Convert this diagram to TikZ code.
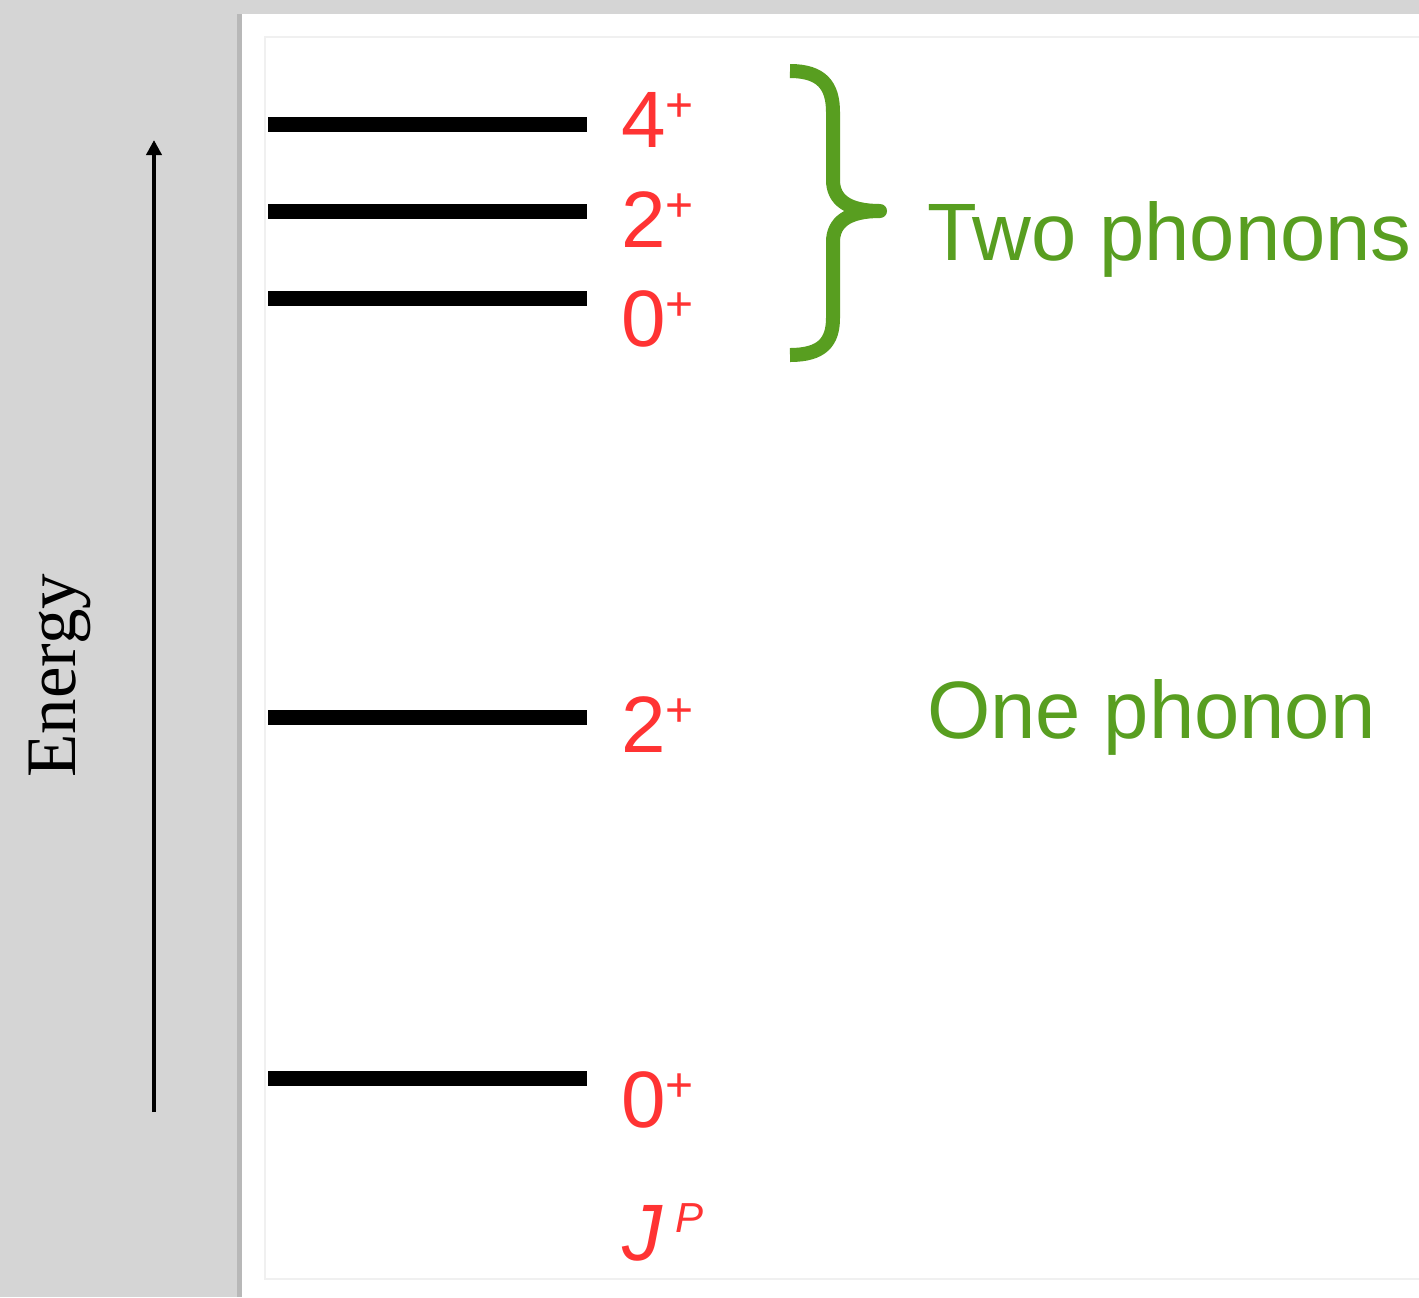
\documentclass[tikz,border=0pt]{standalone}
\usepackage{fontspec}
\setmainfont{Liberation Sans}
\newfontfamily\timesface{Liberation Serif}
\usetikzlibrary{arrows.meta}

\definecolor{panelgray}{RGB}{213,213,213}
\definecolor{edgegray}{RGB}{240,240,240}
\definecolor{spinred}{RGB}{255,51,51}
\definecolor{phongreen}{RGB}{88,158,32}

\newcommand{\plusup}{{\fontsize{24}{24}\selectfont\raisebox{13pt}{+}}}

\tikzset{
  level/.style={line width=7.5pt},
  spin/.style={anchor=base west, inner sep=0pt, text=spinred, font=\fontsize{40}{48}\selectfont},
  phon/.style={anchor=base west, inner sep=0pt, text=phongreen, font=\fontsize{40.7}{48}\selectfont},
  brace/.style={draw=phongreen, line width=7pt, line join=round}
}

\begin{document}
\begin{tikzpicture}[x=0.5pt,y=-0.5pt]

\useasboundingbox (0,0) rectangle (1419,1297);

% background and panel
\fill[panelgray] (0,0) rectangle (1419,1297);
\fill[black!28] (237,14) rectangle (243,1297);
\fill[white] (242,14) rectangle (1419,1297);
\draw[edgegray, line width=1pt] (1419,37) -- (265,37) -- (265,1279) -- (1419,1279);

% energy axis
\coordinate (e0) at (154,1112);
\coordinate (e1) at (154,140);
\draw[line width=2pt, -{Triangle[width=7.5pt,length=7.5pt]}] (e0) -- (e1);
\node[anchor=base west, rotate=90, inner sep=0pt, font=\timesface\fontsize{35.5}{40}\selectfont] (energy) at (75,778) {Energy};

% levels
\foreach \y in {124,211,298,717,1078}
    \draw[level] (268,\y) -- (587,\y);

\foreach \b/\j/\n in {147/4/a,247/2/b,346/0/c,752/2/d,1127/0/e}
    \node[spin] (spin-\n) at (621,\b) {\j\plusup};

\node[spin] (jp) at (622,1260) {\textit{J}\kern6pt\raisebox{14pt}{\fontsize{21}{21}\selectfont\textit{P}}};

% brace over the two-phonon states
\draw[brace] (790,71) .. controls (822,71) and (833,86) .. (833,112) -- (833,180)
    .. controls (833,200) and (848,211) .. (880,211)
    .. controls (848,211) and (833,222) .. (833,242) -- (833,318)
    .. controls (833,342) and (822,355) .. (790,355);

\node[phon] (two) at (927,260) {Two phonons};
\node[phon] (one) at (927,738) {One phonon};

\end{tikzpicture}
\end{document}
